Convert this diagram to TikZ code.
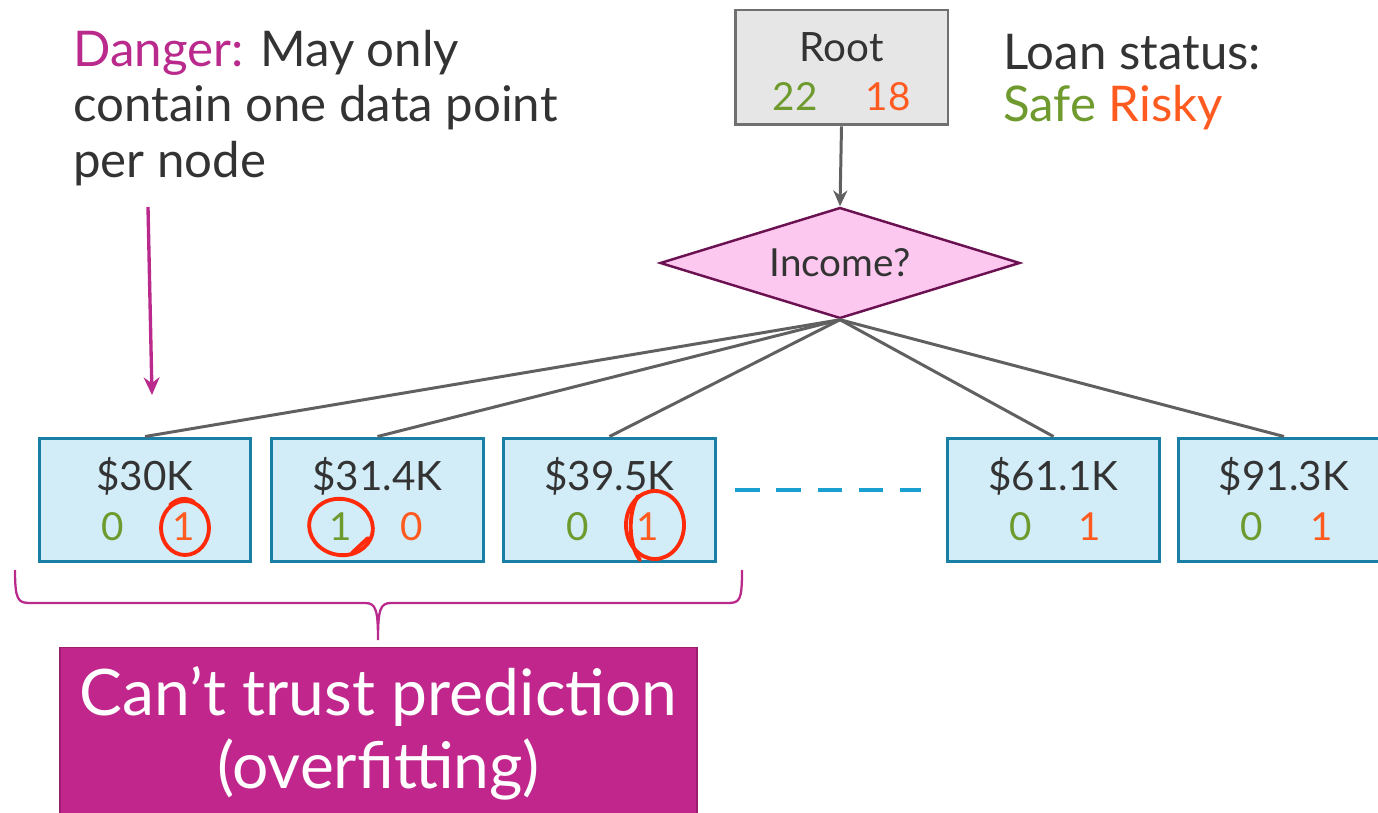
\documentclass[tikz,border=0pt]{standalone}
\usepackage{fontspec}
\setmainfont{Lato}
\usetikzlibrary{shapes.geometric,arrows.meta}
\definecolor{safe}{HTML}{6E9A2E}
\definecolor{risky}{HTML}{FF5A1F}
\definecolor{ink}{HTML}{333333}
\definecolor{mag}{HTML}{B92A8C}
\definecolor{magfill}{HTML}{C0268C}
\definecolor{leaffill}{HTML}{D2EDF8}
\definecolor{leafdraw}{HTML}{1A7FA5}
\definecolor{rootfill}{HTML}{E6E6E6}
\definecolor{rootdraw}{HTML}{707070}
\definecolor{edgegray}{HTML}{606060}
\definecolor{diafill}{HTML}{FCC8EF}
\definecolor{diadraw}{HTML}{6B1050}
\definecolor{dashblue}{HTML}{1AA0D0}
\definecolor{circred}{HTML}{FF2A0A}
\begin{document}
\begin{tikzpicture}[x=0.02cm,y=-0.02cm,
  every node/.style={text=ink},
  leafbox/.style={draw=leafdraw, fill=leaffill, line width=1.7pt, minimum width=4.24cm, minimum height=2.48cm, inner sep=0pt},
  rootbox/.style={draw=rootdraw, fill=rootfill, line width=1.7pt, minimum width=4.26cm, minimum height=2.3cm, inner sep=0pt},
  diabox/.style={diamond, draw=diadraw, fill=diafill, line width=1.4pt, minimum width=7.2cm, minimum height=2.22cm, aspect=3.2, inner sep=0pt, font=\fontsize{22}{26}\selectfont},
  price/.style={font=\fontsize{23}{26}\selectfont, inner sep=0pt},
  cnt/.style={font=\fontsize{22}{26}\selectfont, inner sep=0pt},
  edgeline/.style={draw=edgegray, line width=1.7pt},
  handcirc/.style={draw=circred, line width=2.2pt, line cap=round},
  bigtext/.style={font=\fontsize{28}{31.5}\selectfont, inner sep=0pt}
]
\clip (0,0) rectangle (1378,813);
\fill[white] (0,0) rectangle (1378,813);

% root
\node[rootbox] (root) at (841.5,67.5) {};
\node[font=\fontsize{23}{26}\selectfont, inner sep=0pt] (roottxt) at (841.5,47) {Root};
\node[cnt, text=safe] (rootsafe) at (795,97) {22};
\node[cnt, text=risky] (rootrisky) at (888,97) {18};

% decision
\node[diabox] (inc) at (840,263) {Income?};
\draw[edgeline, -{Stealth[length=9pt,width=8pt]}] (root.south) -- (inc.north);

% legend
\node[bigtext, anchor=west] (legend1) at (1003,52) {Loan status:};
\node[bigtext, anchor=west] (legend2) at (1003,108) {\textcolor{safe}{Safe} \textcolor{risky}{Risky}};

% danger note
\node[bigtext, anchor=north west, align=left] (danger) at (73,30) {\textcolor{mag}{Danger:} May only\\contain one data point\\per node};
\coordinate (dstart) at (148,207);
\coordinate (dend) at (152,395);
\draw[draw=mag, line width=1.9pt, -{Stealth[length=10pt,width=9pt]}] (dstart) -- (dend);

% leaves
\node[leafbox] (L1) at (145,500) {};
\node[leafbox] (L2) at (377.5,500) {};
\node[leafbox] (L3) at (609.5,500) {};
\node[leafbox] (L4) at (1053.5,500) {};
\node[leafbox] (L5) at (1284,500) {};

\node[price] (p1) at (145,476) {\$30K};
\node[price] (p2) at (377.5,476) {\$31.4K};
\node[price] (p3) at (609.5,476) {\$39.5K};
\node[price] (p4) at (1053.5,476) {\$61.1K};
\node[price] (p5) at (1284,476) {\$91.3K};

\node[cnt, text=safe] (s1) at (113,527) {0};
\node[cnt, text=risky] (r1) at (184,527) {1};
\node[cnt, text=safe] (s2) at (341,527) {1};
\node[cnt, text=risky] (r2) at (412,527) {0};
\node[cnt, text=safe] (s3) at (578,527) {0};
\node[cnt, text=risky] (r3) at (648,527) {1};
\node[cnt, text=safe] (s4) at (1021,527) {0};
\node[cnt, text=risky] (r4) at (1090,527) {1};
\node[cnt, text=safe] (s5) at (1252,527) {0};
\node[cnt, text=risky] (r5) at (1322,527) {1};

\foreach \n in {L1,L2,L3,L4,L5}
  \draw[edgeline] (inc.south) -- (\n.north);

% dashed continuation
\coordinate (da) at (735,490);
\coordinate (db) at (921,490);
\draw[draw=dashblue, line width=2.8pt, dash pattern=on 14pt off 9.5pt] (da) -- (db);

% hand-drawn circles
\draw[handcirc] (185,528) ellipse [x radius=24, y radius=27];
\draw[handcirc] (170,505) .. controls (178,498) and (186,497) .. (194,502);
\draw[handcirc, rotate around={-12:(341,527)}] (341,527) ellipse [x radius=32, y radius=28];
\draw[handcirc] (352,553) -- (368,538);
\draw[handcirc] (655,525) ellipse [x radius=29, y radius=34];
\draw[handcirc] (638,496) .. controls (628,512) and (628,545) .. (640,560);

% brace
\draw[draw=mag, line width=1.3pt] (15,570) .. controls (15,600) and (18,603) .. (30,603)
  -- (365,603) .. controls (376,603) and (378,610) .. (378,640)
  .. controls (378,610) and (380,603) .. (391,603)
  -- (728,603) .. controls (740,603) and (742,600) .. (742,570);
\coordinate (bracetip) at (378,640);

% conclusion box
\node[fill=magfill, draw=magfill!80!black, line width=0.8pt, minimum width=12.74cm, minimum height=3.6cm, inner sep=0pt, anchor=north] (concl) at (378.5,647) {};
\node[text=white, align=center, font=\fontsize{36.5}{41.5}\selectfont, inner sep=0pt] (concltxt) at (378.5,733) {Can’t trust prediction\\(overfitting)};
\end{tikzpicture}
\end{document}
